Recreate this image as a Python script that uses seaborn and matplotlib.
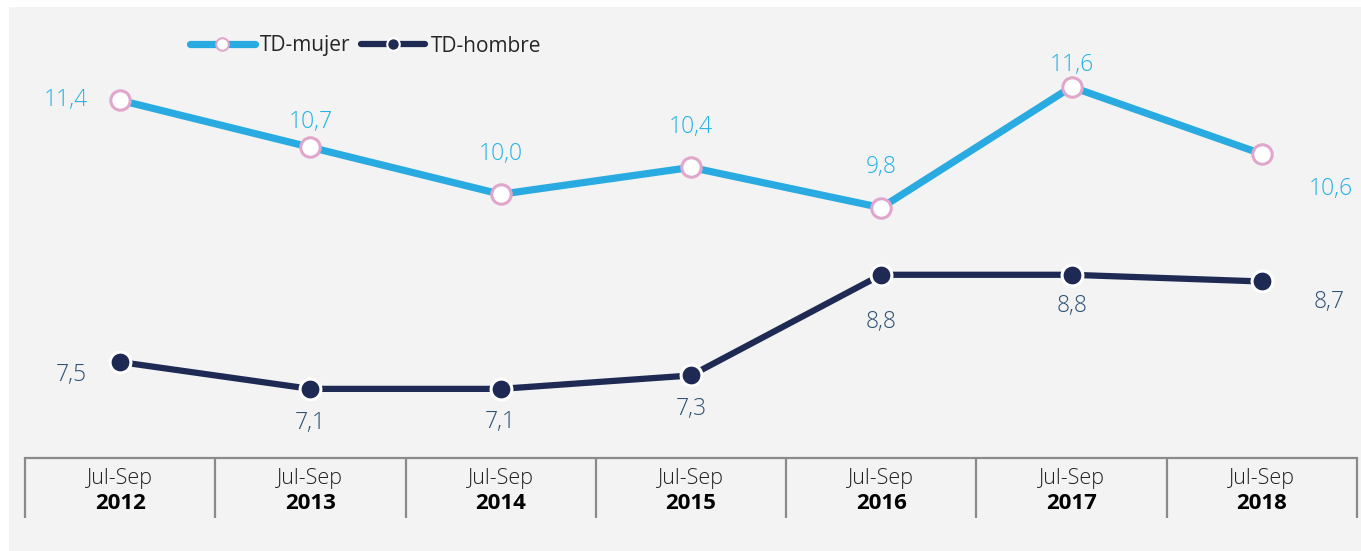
import pandas as pd
import matplotlib.pyplot as plt
import seaborn as sns
from matplotlib.patches import Rectangle

periodos = ["Jul-Sep"] * 7
anios = ["2012", "2013", "2014", "2015", "2016", "2017", "2018"]
td_mujer = [11.4, 10.7, 10.0, 10.4, 9.8, 11.6, 10.6]
td_hombre = [7.5, 7.1, 7.1, 7.3, 8.8, 8.8, 8.7]

# label offsets in pixels (dx, dy up)
off_mujer = [(-54, 0), (0, 25), (0, 40), (0, 40), (0, 41), (0, 22), (69, -35)]
off_hombre = [(-49, -13), (0, -34), (0, -33), (0, -34), (0, -47), (0, -31), (67, -21)]

df = pd.DataFrame({"pos": range(len(anios)), "mujer": td_mujer, "hombre": td_hombre})

sns.set_style("white")
plt.rcParams['font.family'] = ['Open Sans', 'DejaVu Sans']

W, H = 1361, 551
fig = plt.figure(figsize=(W / 100, H / 100), dpi=100, facecolor="white")
fig.patches.append(Rectangle((9 / W, 0), 1, 544 / H, transform=fig.transFigure,
                             facecolor="#f3f3f3", edgecolor="none", zorder=-10))
ax = fig.add_axes([25 / W, (H - 458) / H, 1332 / W, 451 / H])
ax.set_facecolor("none")

c_mujer = "#29abe2"
c_hombre = "#1f2a54"

sns.lineplot(data=df, x="pos", y="mujer", ax=ax, color=c_mujer, linewidth=5.2,
             marker="o", markersize=14, markerfacecolor="white",
             markeredgecolor="#e0a6cc", markeredgewidth=2.2, label="TD-mujer")
sns.lineplot(data=df, x="pos", y="hombre", ax=ax, color=c_hombre, linewidth=4.5,
             marker="o", markersize=15, markerfacecolor=c_hombre,
             markeredgecolor="white", markeredgewidth=2.2, label="TD-hombre")

for i, (v, (dx, dy)) in enumerate(zip(td_mujer, off_mujer)):
    ax.annotate(f"{v:.1f}".replace(".", ","), (i, v), xytext=(dx * 0.72, dy * 0.72),
                textcoords="offset points", ha="center", va="center",
                fontsize=16.5, color="#22b2e6", fontweight="light")
for i, (v, (dx, dy)) in enumerate(zip(td_hombre, off_hombre)):
    ax.annotate(f"{v:.1f}".replace(".", ","), (i, v), xytext=(dx * 0.72, dy * 0.72),
                textcoords="offset points", ha="center", va="center",
                fontsize=16.5, color="#2d5275", fontweight="light")

ax.set_xlim(-0.5, 6.5)
ax.set_ylim(6.07, 12.79)
ax.set_yticks([])
ax.set_xlabel("")
ax.set_ylabel("")

# table-like category axis
ax.set_xticks([i - 0.5 for i in range(len(anios) + 1)])
ax.set_xticklabels([])
ax.tick_params(axis="x", which="major", bottom=True, length=43, width=1.6,
               color="#8a8a8a", direction="out")
ax.set_xticks(range(len(anios)), minor=True)
ax.set_xticklabels(periodos, minor=True, fontsize=15.5, color="#222222", fontweight="light")
ax.tick_params(axis="x", which="minor", bottom=True, length=0, pad=7)
for i, a in enumerate(anios):
    ax.annotate(a, (i, 0), xycoords=("data", "axes fraction"), xytext=(0, -32.5),
                textcoords="offset points", ha="center", va="center",
                fontsize=16, fontweight="bold", color="black")

for s in ["top", "left", "right"]:
    ax.spines[s].set_visible(False)
ax.spines["bottom"].set_color("#8a8a8a")
ax.spines["bottom"].set_linewidth(1.6)

leg = ax.legend(loc="center left", bbox_to_anchor=((190 - 25) / 1332, (458 - 46) / 451),
                ncol=2, frameon=False, handlelength=3.1, handletextpad=0.25,
                columnspacing=0.5, borderpad=0, borderaxespad=0,
                prop={"size": 15})
for h in leg.legend_handles:
    h.set_markersize(9)
    h.set_markeredgewidth(1.5)

fig.savefig("out.png", dpi=100, facecolor="white")
